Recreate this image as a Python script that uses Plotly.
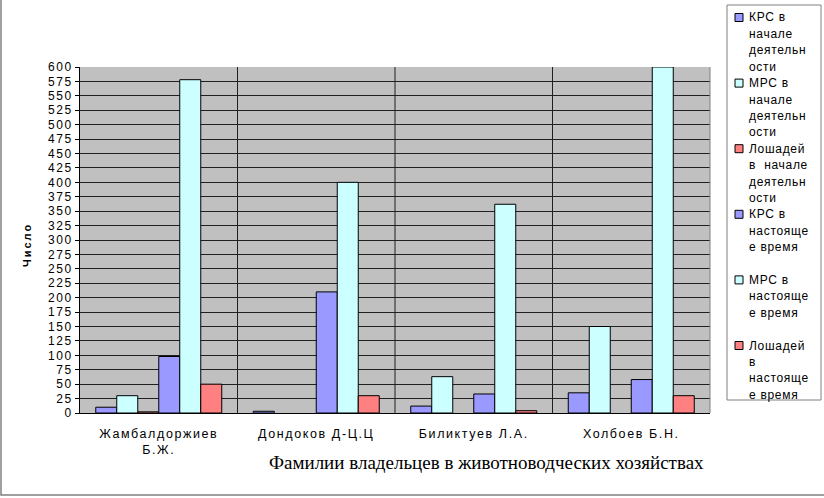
import plotly.graph_objects as go

# ---------------- data ----------------
categories = ["Жамбалдоржиев<br>Б.Ж.", "Дондоков Д-Ц.Ц", "Биликтуев Л.А.", "Холбоев Б.Н."]
series_names = [
    "КРС в\nначале\nдеятельн\nости",
    "МРС в\nначале\nдеятельн\nости",
    "Лошадей\nв  начале\nдеятельн\nости",
    "КРС в\nнастояще\nе время\n",
    "МРС в\nнастояще\nе время\n",
    "Лошадей\nв\nнастояще\nе время",
]
krs_start = [10, 3, 12, 35]
mrs_start = [30, None, 63, 150]
horse_start = [2, None, None, None]
krs_now = [98, 210, 33, 58]
mrs_now = [578, 400, 362, 600]
horse_now = [50, 30, 4, 30]
y_ticks = list(range(0, 601, 25))
y_title = "Число"
x_title = "Фамилии владельцев в животноводческих хозяйствах"

series_values = [krs_start, mrs_start, horse_start, krs_now, mrs_now, horse_now]
colors = ["#9999FF", "#CCFFFF", "#FF8080", "#9999FF", "#CCFFFF", "#FF8080"]

W, H = 824, 498
L, R, T, B = 80, 710, 67, 413  # plot area in pixels


def px(x):
    return (x - L) / (R - L)


def py(y):
    return (B - y) / (B - T)


LEG_LS = "letter-spacing:0.7px"
CAT_LS = "letter-spacing:1.6px"

fig = go.Figure()
xs = list(range(len(categories)))
for name, vals, col in zip(series_names, series_values, colors):
    fig.add_trace(go.Bar(
        x=xs, y=vals, name=name.replace("\n", " "),
        marker=dict(color=col, line=dict(color="black", width=1)),
        showlegend=False,
    ))

shapes = []
# vertical category dividers
for i in range(len(categories) - 1):
    shapes.append(dict(type="line", xref="x", yref="paper", x0=i + 0.5, x1=i + 0.5,
                       y0=0, y1=1, line=dict(color="#202020", width=1), layer="below"))
# right border of plot area
shapes.append(dict(type="line", xref="paper", yref="paper", x0=1, x1=1, y0=0, y1=1,
                   line=dict(color="#808080", width=1)))
# outer frame
shapes.append(dict(type="rect", xref="paper", yref="paper",
                   x0=px(1), x1=px(W + 10), y0=py(495), y1=py(-10),
                   line=dict(color="#808080", width=1.5)))
# legend box
shapes.append(dict(type="rect", xref="paper", yref="paper",
                   x0=px(727), x1=px(821), y0=py(400), y1=py(5),
                   line=dict(color="#808080", width=1), fillcolor="white"))

annotations = []
line_h = 16.4
ypos = 17.5
for name, col in zip(series_names, colors):
    lines = name.split("\n")
    shapes.append(dict(type="rect", xref="paper", yref="paper",
                       x0=px(735), x1=px(743), y0=py(ypos + 4), y1=py(ypos - 4),
                       fillcolor=col, line=dict(color="black", width=1)))
    for k, ln in enumerate(lines):
        if ln.strip():
            annotations.append(dict(
                xref="paper", yref="paper", x=px(747), y=py(ypos + k * line_h),
                xanchor="left", yanchor="middle", showarrow=False,
                text=f"<span style='{LEG_LS}'>{ln}</span>",
                font=dict(family="Arial, Liberation Sans", size=12, color="black")))
    ypos += len(lines) * line_h

# axis titles
annotations.append(dict(xref="paper", yref="paper", x=px(27), y=py(245), textangle=-90,
                        showarrow=False, xanchor="center", yanchor="middle",
                        text=f"<b><span style='letter-spacing:2px'>{y_title}</span></b>",
                        font=dict(family="Arial, Liberation Sans", size=11, color="black")))
annotations.append(dict(xref="paper", yref="paper", x=px(486), y=py(462),
                        showarrow=False, xanchor="center", yanchor="middle",
                        text=x_title,
                        font=dict(family="Times New Roman, Liberation Serif", size=19, color="black")))

fig.update_layout(
    width=W, height=H,
    margin=dict(l=L, r=W - R, t=T, b=H - B, pad=0),
    paper_bgcolor="white", plot_bgcolor="#C0C0C0",
    barmode="group", bargap=0.2, bargroupgap=0,
    font=dict(family="Arial, Liberation Sans", size=12, color="black"),
    shapes=shapes, annotations=annotations,
    showlegend=False,
)
fig.update_xaxes(
    range=[-0.5, len(categories) - 0.5],
    tickvals=xs,
    ticktext=[f"<span style='{CAT_LS}'>{c}</span>" for c in categories],
    showgrid=False, zeroline=False, ticks="",
    showline=True, linecolor="black", linewidth=1,
    tickfont=dict(size=12.5), ticklabelstandoff=9,
)
fig.update_yaxes(
    range=[0, 600],
    tickvals=y_ticks,
    ticktext=[f"<span style='letter-spacing:1.5px'>{v}</span>" for v in y_ticks],
    showgrid=True, gridcolor="#202020", gridwidth=1,
    zeroline=False, ticks="outside", ticklen=4, tickcolor="black",
    showline=True, linecolor="black", linewidth=1,
    tickfont=dict(size=12),
)

fig.write_html("out.html", config={"displayModeBar": False},
               post_script="document.body.style.margin='0';")
